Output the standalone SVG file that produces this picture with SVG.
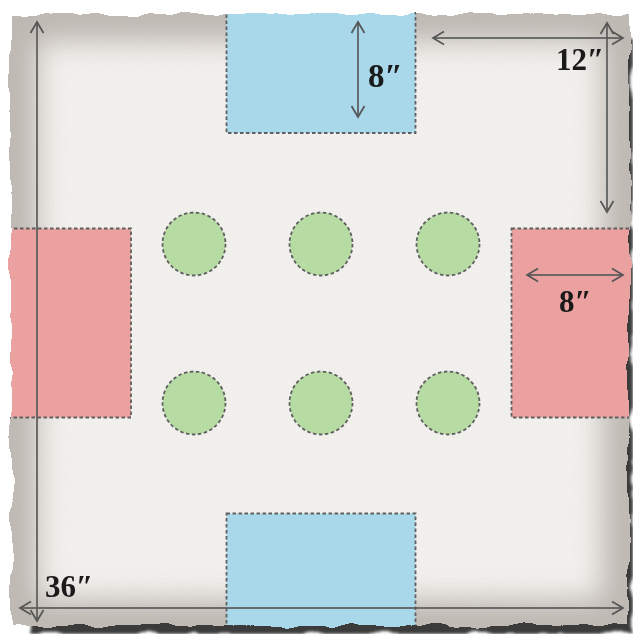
<svg xmlns="http://www.w3.org/2000/svg" width="633" height="634" viewBox="0 0 633 634">
  <style>
    .zone { stroke: #5f5f5f; stroke-width: 1.8; stroke-dasharray: 3.5 2.5; }
    .blue { fill: #a9d8ea; }
    .pink { fill: #eba19f; }
    .green { fill: #b7dca3; }
    .dim { stroke: #5a5a5a; stroke-width: 2; fill: none; marker-start: url(#ah); marker-end: url(#ah); stroke-opacity: 0.85; }
    .lbl { font-family: "Liberation Serif", "DejaVu Serif", serif; font-weight: bold; fill: #1a1a1a; }
  </style>
  <defs>
    <marker id="ah" viewBox="0 0 16 16" refX="14" refY="8" markerWidth="16" markerHeight="16" markerUnits="userSpaceOnUse" orient="auto-start-reverse">
      <path d="M3,1.5 L14,8 L3,14.5" fill="none" stroke="#555" stroke-width="1.7"/>
    </marker>
    <filter id="torn" filterUnits="userSpaceOnUse" x="0" y="0" width="633" height="634">
      <feTurbulence type="fractalNoise" baseFrequency="0.028" numOctaves="3" seed="7" result="n"/>
      <feDisplacementMap in="SourceGraphic" in2="n" scale="11" xChannelSelector="R" yChannelSelector="G"/>
    </filter>
    <filter id="tornShadow" filterUnits="userSpaceOnUse" x="0" y="0" width="633" height="634">
      <feTurbulence type="fractalNoise" baseFrequency="0.03" numOctaves="3" seed="11" result="n"/>
      <feDisplacementMap in="SourceGraphic" in2="n" scale="12" xChannelSelector="R" yChannelSelector="G" result="d"/>
      <feGaussianBlur in="d" stdDeviation="1.8"/>
    </filter>
    <filter id="soft" filterUnits="userSpaceOnUse" x="-50" y="-50" width="733" height="734">
      <feGaussianBlur stdDeviation="14"/>
    </filter>
    <filter id="grain" filterUnits="userSpaceOnUse" x="0" y="0" width="633" height="634">
      <feTurbulence type="fractalNoise" baseFrequency="0.9" numOctaves="2" seed="3"/>
      <feColorMatrix type="matrix" values="0 0 0 0 0.5  0 0 0 0 0.48  0 0 0 0 0.46  0 0 0 -1.2 1.1"/>
    </filter>
    <mask id="paper" maskUnits="userSpaceOnUse" x="0" y="0" width="633" height="634">
      <rect x="11" y="15" width="618" height="611" fill="#fff" filter="url(#torn)"/>
    </mask>
  </defs>

  <rect width="633" height="634" fill="#ffffff"/>

  <!-- paper shadow (bottom and right only) -->
  <rect x="30" y="40" width="603" height="594" fill="#3a3a3a" filter="url(#tornShadow)"/>

  <!-- paper -->
  <g mask="url(#paper)">
    <rect width="633" height="634" fill="#f5f3f0"/>
    <rect x="11" y="15" width="618" height="611" fill="none" stroke="#aca49d" stroke-width="54" filter="url(#soft)" opacity="0.75"/>
    <rect width="633" height="634" filter="url(#grain)" opacity="0.12"/>

    <g id="zone-top">
      <rect class="zone blue" x="226.5" y="-4" width="189" height="137"/>
    </g>
    <g id="zone-bottom">
      <rect class="zone blue" x="226.5" y="513.5" width="189" height="130"/>
    </g>
    <g id="zone-left">
      <rect class="zone pink" x="-4" y="228.5" width="135" height="189"/>
    </g>
    <g id="zone-right">
      <rect class="zone pink" x="511.5" y="228.5" width="130" height="189"/>
    </g>

    <g id="objective-1"><circle class="zone green" cx="194" cy="244" r="31.5"/></g>
    <g id="objective-2"><circle class="zone green" cx="321" cy="244" r="31.5"/></g>
    <g id="objective-3"><circle class="zone green" cx="448" cy="244" r="31.5"/></g>
    <g id="objective-4"><circle class="zone green" cx="194" cy="403" r="31.5"/></g>
    <g id="objective-5"><circle class="zone green" cx="321" cy="403" r="31.5"/></g>
    <g id="objective-6"><circle class="zone green" cx="448" cy="403" r="31.5"/></g>

    <g id="dimensions">
      <line class="dim" x1="37" y1="22" x2="37" y2="621"/>
      <line class="dim" x1="20" y1="608" x2="623" y2="608"/>
      <line class="dim" x1="433" y1="38" x2="623" y2="38"/>
      <line class="dim" x1="607" y1="23" x2="607" y2="212"/>
      <line class="dim" x1="358" y1="22" x2="358" y2="117"/>
      <line class="dim" x1="527" y1="275" x2="623" y2="275"/>
    </g>

    <g id="labels">
      <text class="lbl" x="45" y="597" font-size="31">36″</text>
      <text class="lbl" x="556" y="70" font-size="31">12″</text>
      <text class="lbl" x="368" y="87" font-size="33">8″</text>
      <text class="lbl" x="559" y="312" font-size="31">8″</text>
    </g>
  </g>
</svg>
